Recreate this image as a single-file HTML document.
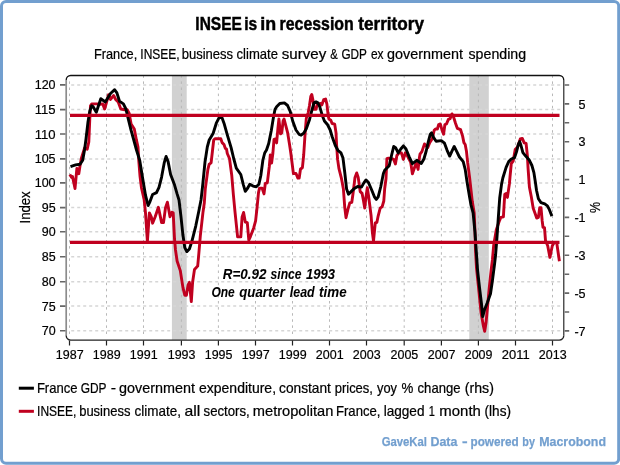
<!DOCTYPE html>
<html lang="en"><head><meta charset="utf-8"><title>INSEE is in recession territory</title>
<style>html,body{margin:0;padding:0;background:#fff}svg{display:block}text{font-family:"Liberation Sans",Arial,sans-serif;fill:#000}.n{stroke:#000;stroke-width:.2}</style></head><body>
<svg width="620" height="465" viewBox="0 0 620 465">
<rect x="0" y="0" width="620" height="465" fill="#fff"/>
<rect x="1.5" y="1.5" width="617.2" height="461.7" rx="4.5" ry="4.5" fill="#fff" stroke="#729fcf" stroke-width="3"/>
<rect x="171.9" y="76" width="14.8" height="264" fill="#d1d1d1"/>
<rect x="469.3" y="76" width="19.5" height="264" fill="#d1d1d1"/>
<path d="M71.2 84.9H560.4M71.2 109.6H560.4M71.2 134.0H560.4M71.2 158.9H560.4M71.2 182.9H560.4M71.2 207.6H560.4M71.2 231.8H560.4M71.2 256.7H560.4M71.2 281.7H560.4M71.2 306.1H560.4M71.2 330.8H560.4" fill="none" stroke="#d6d6d6" stroke-width="1.5" stroke-dasharray="3 3"/>
<path d="M69.5 81.4V337M106.5 75.3V337M143.5 75.3V337M181.4 75.3V337M218.4 75.3V337M255.5 75.3V337M292.5 75.3V337M329.5 75.3V337M366.5 75.3V337M404.2 75.3V337M441.4 75.3V337M478.4 75.3V337M515.5 75.3V337M552.5 75.3V337" fill="none" stroke="#b8b8b8" stroke-width="1" stroke-dasharray="2.5 3.6"/>
<polyline points="69.8,174.4 71.7,177.6 72.5,176.5 75,188.5 76.9,168.5 78.8,173.7 80.1,165.3 81.4,158.2 84.6,147.9 87.2,149.2 88.8,142 89.8,118.7 90.5,105.8 91.7,103.9 96.9,103.9 98.8,104.5 102.7,103.9 104.6,109 106.6,102 108.5,94.8 110.5,99.4 113.7,95.5 115.6,99.4 118.2,102 120.8,109 124.6,109.7 127.2,109.7 129.2,113.5 131.1,123.9 134.3,129 136.3,139.4 138,147 138.8,160.8 140,176 141.5,188 144.2,200 145.5,212.9 147.4,241.3 149.4,212.9 151.3,216.8 152.6,223.2 155.2,216.8 158.4,207.3 161.6,222.6 163.5,222.6 165.5,207.7 167.4,202.2 170,216.8 171.9,212.3 173.2,212.9 174.5,238.7 175.5,250 177.1,261 180.3,270.6 182.9,287.4 184.8,295.2 186.4,295.2 188.1,284.8 189.4,282.3 191.3,301.6 192.6,282.3 194.5,269.4 197.7,266.1 198.8,253.9 200.3,236.1 202.9,212.9 204.3,203 205.3,188.7 207.9,169.4 209.2,164.2 211.1,162.9 212.4,151.5 213.7,140 215,138.7 220.8,138.7 222.1,142.6 224,144.5 225.3,148.4 226.5,149 227.3,153.5 229.5,158.5 231.8,175.8 233.4,195 235,211.8 237.6,236.9 240.8,236.9 242.1,216.9 243.6,212.4 245.3,222.1 247.3,222.7 248.8,240.2 250.5,236.3 253.7,227.9 255.6,220.8 257,208 258.5,192.6 259.5,188.1 262.1,188.1 264,193.9 265.3,183.5 267.3,182.9 269.3,166.5 270.3,155 271.6,163 272.9,153 274,139.5 275.5,139 276.6,142.9 277.9,128.7 278.9,119 280.5,133.9 281.8,132.6 283.1,121 284.1,119 285.6,124.8 287.6,132.6 289.5,144.2 290.8,153 293.4,173.5 296,173.5 297.9,178.1 299.2,178.1 300.5,169 302.4,167.7 303.7,155 305,135.2 306.3,118.4 308.2,112.6 309.5,105.5 310.8,96.5 311.8,94.5 313,100.3 314,109.4 316,109.4 317.3,104.2 320.5,103.5 321.8,105 323.7,99.7 325.6,99 326.9,104.2 328.2,115.8 328.9,119 330.8,120.3 332.1,123.5 334.7,124.2 336,132.6 336.6,145 337.6,159.4 338.9,168.4 341.5,178.7 343.4,189 344.7,206.8 346,217.7 347.9,209.4 349.8,202.9 351.8,202.3 353.1,193 355,177.4 356.7,172.9 358.2,177.4 360.2,191.6 362.1,193.4 363.4,200.3 364.7,208.1 366,197 367.3,187.7 368.5,195.5 369.8,205.5 371.1,215.8 372.4,232.6 373.5,241 374.7,228.7 375.3,222.9 376.9,222.3 378.2,215.8 380.2,208.1 382.1,206.8 383.8,201 384.7,188.5 386,178.7 386.9,158.7 388.5,158.1 391.8,158.7 393.7,159.4 395.4,163.9 396.9,155.5 399.5,152.3 401.4,152.9 403.4,159.4 405.3,152.8 407.5,156 410.7,162.4 412.4,173.7 414.3,168.2 416.1,162.9 418.1,169.4 419.4,157.7 420,154.2 421.9,151.6 424.5,143.9 427.7,147.7 429.7,142.6 432.3,138.7 434.2,130.3 435.5,129 437.4,129 438.7,124.5 440.3,123.9 441.9,129.7 443.6,134.2 444.9,124.5 446.5,123.9 448.4,119.4 450.1,118.7 452,113.9 453.5,116.8 455.5,123.2 457.4,128.4 460.6,129.7 462.6,136.1 463.9,142.6 465.2,144.5 466.5,151.6 467.7,162.9 469.7,178.4 472.3,201.6 474.2,213 475,232 475.5,250 476.5,268 478.5,287 481.1,313 483.5,326.5 484.7,331.3 486.1,322.3 487.5,307 489.2,288.5 491.1,270.5 492.4,260 493.7,245.2 496.3,229.7 499.5,220.6 500.8,217.4 503.4,216.8 504,206.5 504.8,194.2 506.1,193.5 507.4,197.4 509.4,183.9 510,177 511.3,163.5 513.2,161 515.2,149.4 517.7,146.8 520.3,139 522.3,138.4 524.2,142.9 526.1,143.5 527.4,155.8 528.1,168.7 529.4,187 531.3,196.8 533.2,208.2 535.2,213.8 536.7,218.1 538.4,217.4 539.7,207.7 541,207.7 542.2,221 543,227.3 544.5,227.7 545.5,240.6 547.7,245.8 549.9,257.4 552.3,245.8 554.2,242.6 556.8,243.2 559.4,261.3" fill="none" stroke="#c0001f" stroke-width="2.9" stroke-linejoin="round" stroke-linecap="butt"/>
<polyline points="70.5,166.6 75.6,164.9 80.1,164.2 82.7,160.2 84.6,149.5 86,139 87.9,122.6 89.8,111 91.7,105.8 93,106.5 96.3,112.3 100.8,98.7 105.3,102 110.5,93.5 114.7,89.7 116.9,92.9 119.5,101.3 123.4,103.9 125.9,109 128.5,120 131.1,130.3 133.5,139 136.5,150 139.7,160.3 142.9,179.7 145.5,195.2 148.1,205.5 150,201.6 152.6,194.5 156.5,192.6 159,187.4 161.6,177.1 164.2,162.9 166.1,156.5 168.1,161.6 170.6,174.5 174.5,184.8 177.1,193.9 179,200 181,216.8 182.9,234.8 184.8,247.7 186.8,251.6 189.4,249 191.9,241.3 195.8,225.8 199,210.3 201,200 202.5,187 205,162 207.3,147 209.2,140 213.1,133.5 216.3,123.2 219.5,116.8 222.1,118.1 224,123.2 227.3,134.8 231.1,147.7 233.7,158.5 236.3,168.1 240.8,174.5 243.4,184.8 245.3,191.3 247.3,188.7 249.8,184.2 253.1,186.1 256.3,186.8 258.9,184.2 260.8,175.8 262.9,160 264.7,153 266.5,150 268.7,143.5 271.3,130.5 273.5,117 275,109.5 276.6,106.8 279.8,103.5 284.4,102.9 287.6,105.5 290.2,111.3 292.7,121 296,130 299.2,134.5 301.1,135.2 303.7,133.2 306.3,128.7 309.5,119.7 312.1,109.4 314,102.9 316,101.9 317.9,102.9 319.8,106.8 322.4,115.8 324.4,121 327.6,124.8 330.2,130 332.1,136.5 335.3,145.5 337.9,150.3 341,152.9 343,158.1 344.7,172 346.6,189 348.5,194.2 351.1,191.6 354.4,188.4 357.6,186.5 361.5,187.1 364,182.6 366,180 368.5,182.6 371.8,190.3 374.4,196.8 376.3,199.4 378.2,196.8 380.8,186.5 383.4,173.5 384.7,170.3 389.2,165.8 391.8,154.2 393.7,146.5 395.6,147.7 398.2,152.9 400.8,149 403.4,145.8 406,149 409.2,156.8 412.4,163.7 416.8,160.3 421.3,163.5 423.9,159 426.2,151 428.4,141.3 430.3,134.2 431.6,132.9 433.5,137.4 436.1,141.3 441.3,140.6 444.5,143.2 447.1,150.3 449.7,156.1 452.3,150.3 454.2,146.5 456.8,151.6 459.4,157 463.2,161.6 465.2,169.4 467.1,182.3 469.7,197.7 471,205 473.1,212.9 475,232.3 476.3,251.6 477.6,270.5 479.5,287.3 481.5,304 482.7,316.5 484.7,309.2 487.3,302.7 490.5,293.7 492.4,280.8 494.4,265.3 495.6,255 496.9,238.7 498.2,219.4 499.7,198 501.6,183.9 502.9,177.7 506.1,167.4 508.7,161.6 511.3,159 514.5,157.7 516.5,151.9 518.4,144.2 519.7,141.6 521,145.5 522.9,152.6 525.5,155.8 529.4,160.3 531.9,165.5 533.9,172.6 535.5,183 536.5,190.3 538.4,198.7 541,202.6 544.8,203.9 547.4,205.8 549.4,209.7 551.9,216.1" fill="none" stroke="#000" stroke-width="2.9" stroke-linejoin="round" stroke-linecap="butt"/>
<line x1="70" y1="115.4" x2="559.5" y2="115.4" stroke="#c0001f" stroke-width="3.1"/>
<line x1="70" y1="242.4" x2="559.5" y2="242.4" stroke="#c0001f" stroke-width="3.1"/>
<path d="M66.2 335.6V80.0" fill="none" stroke="#8c8c8c" stroke-width="1.7"/>
<path d="M563.75 80.0V335.6" fill="none" stroke="#484848" stroke-width="1.4"/>
<path d="M66.2 80.0A4.5 4.5 0 0 1 70.7 75.5H559.25A4.5 4.5 0 0 1 563.75 80.0" fill="none" stroke="#111" stroke-width="1.3"/>
<path d="M66.2 335.6A4.5 4.5 0 0 0 70.7 340.1H559.25A4.5 4.5 0 0 0 563.75 335.6" fill="none" stroke="#222" stroke-width="1.4"/>
<path d="M60 330.8H65.5M60 306.1H65.5M60 281.7H65.5M60 256.7H65.5M60 231.8H65.5M60 207.6H65.5M60 182.9H65.5M60 158.9H65.5M60 134.0H65.5M60 109.6H65.5M60 84.9H65.5M564.6 330.9H569.2M564.6 312.0H569.2M564.6 293.1H569.2M564.6 274.2H569.2M564.6 255.3H569.2M564.6 236.3H569.2M564.6 217.4H569.2M564.6 198.5H569.2M564.6 179.6H569.2M564.6 160.7H569.2M564.6 141.7H569.2M564.6 122.8H569.2M564.6 103.9H569.2M564.6 85.0H569.2" fill="none" stroke="#666" stroke-width="1.6"/>
<path d="M69.5 340.5V345.6M106.5 340.5V345.6M143.5 340.5V345.6M181.4 340.5V345.6M218.4 340.5V345.6M255.5 340.5V345.6M292.5 340.5V345.6M329.5 340.5V345.6M366.5 340.5V345.6M404.2 340.5V345.6M441.4 340.5V345.6M478.4 340.5V345.6M515.5 340.5V345.6M552.5 340.5V345.6" fill="none" stroke="#222" stroke-width="1.2"/>
<text class="n" x="55.6" y="335.3" font-size="13.4" text-anchor="end" textLength="13.9" lengthAdjust="spacingAndGlyphs">70</text>
<text class="n" x="55.6" y="310.6" font-size="13.4" text-anchor="end" textLength="13.9" lengthAdjust="spacingAndGlyphs">75</text>
<text class="n" x="55.6" y="286.2" font-size="13.4" text-anchor="end" textLength="13.9" lengthAdjust="spacingAndGlyphs">80</text>
<text class="n" x="55.6" y="261.2" font-size="13.4" text-anchor="end" textLength="13.9" lengthAdjust="spacingAndGlyphs">85</text>
<text class="n" x="55.6" y="236.3" font-size="13.4" text-anchor="end" textLength="13.9" lengthAdjust="spacingAndGlyphs">90</text>
<text class="n" x="55.6" y="212.1" font-size="13.4" text-anchor="end" textLength="13.9" lengthAdjust="spacingAndGlyphs">95</text>
<text class="n" x="55.6" y="187.4" font-size="13.4" text-anchor="end" textLength="20.9" lengthAdjust="spacingAndGlyphs">100</text>
<text class="n" x="55.6" y="163.4" font-size="13.4" text-anchor="end" textLength="20.9" lengthAdjust="spacingAndGlyphs">105</text>
<text class="n" x="55.6" y="138.5" font-size="13.4" text-anchor="end" textLength="20.9" lengthAdjust="spacingAndGlyphs">110</text>
<text class="n" x="55.6" y="114.1" font-size="13.4" text-anchor="end" textLength="20.9" lengthAdjust="spacingAndGlyphs">115</text>
<text class="n" x="55.6" y="89.4" font-size="13.4" text-anchor="end" textLength="20.9" lengthAdjust="spacingAndGlyphs">120</text>
<text class="n" x="585.6" y="335.5" font-size="13.4" text-anchor="end" textLength="11.2" lengthAdjust="spacingAndGlyphs">-7</text>
<text class="n" x="585.6" y="297.7" font-size="13.4" text-anchor="end" textLength="11.2" lengthAdjust="spacingAndGlyphs">-5</text>
<text class="n" x="585.6" y="259.9" font-size="13.4" text-anchor="end" textLength="11.2" lengthAdjust="spacingAndGlyphs">-3</text>
<text class="n" x="585.6" y="222.0" font-size="13.4" text-anchor="end" textLength="11.2" lengthAdjust="spacingAndGlyphs">-1</text>
<text class="n" x="585.6" y="184.2" font-size="13.4" text-anchor="end" textLength="7.0" lengthAdjust="spacingAndGlyphs">1</text>
<text class="n" x="585.6" y="146.3" font-size="13.4" text-anchor="end" textLength="7.0" lengthAdjust="spacingAndGlyphs">3</text>
<text class="n" x="585.6" y="108.5" font-size="13.4" text-anchor="end" textLength="7.0" lengthAdjust="spacingAndGlyphs">5</text>
<text class="n" x="69.7" y="359.4" font-size="13.4" text-anchor="middle" textLength="27.8" lengthAdjust="spacingAndGlyphs">1987</text>
<text class="n" x="106.7" y="359.4" font-size="13.4" text-anchor="middle" textLength="27.8" lengthAdjust="spacingAndGlyphs">1989</text>
<text class="n" x="143.7" y="359.4" font-size="13.4" text-anchor="middle" textLength="27.8" lengthAdjust="spacingAndGlyphs">1991</text>
<text class="n" x="181.6" y="359.4" font-size="13.4" text-anchor="middle" textLength="27.8" lengthAdjust="spacingAndGlyphs">1993</text>
<text class="n" x="218.6" y="359.4" font-size="13.4" text-anchor="middle" textLength="27.8" lengthAdjust="spacingAndGlyphs">1995</text>
<text class="n" x="255.7" y="359.4" font-size="13.4" text-anchor="middle" textLength="27.8" lengthAdjust="spacingAndGlyphs">1997</text>
<text class="n" x="292.7" y="359.4" font-size="13.4" text-anchor="middle" textLength="27.8" lengthAdjust="spacingAndGlyphs">1999</text>
<text class="n" x="329.7" y="359.4" font-size="13.4" text-anchor="middle" textLength="27.8" lengthAdjust="spacingAndGlyphs">2001</text>
<text class="n" x="366.7" y="359.4" font-size="13.4" text-anchor="middle" textLength="27.8" lengthAdjust="spacingAndGlyphs">2003</text>
<text class="n" x="404.4" y="359.4" font-size="13.4" text-anchor="middle" textLength="27.8" lengthAdjust="spacingAndGlyphs">2005</text>
<text class="n" x="441.6" y="359.4" font-size="13.4" text-anchor="middle" textLength="27.8" lengthAdjust="spacingAndGlyphs">2007</text>
<text class="n" x="478.6" y="359.4" font-size="13.4" text-anchor="middle" textLength="27.8" lengthAdjust="spacingAndGlyphs">2009</text>
<text class="n" x="515.7" y="359.4" font-size="13.4" text-anchor="middle" textLength="27.8" lengthAdjust="spacingAndGlyphs">2011</text>
<text class="n" x="552.7" y="359.4" font-size="13.4" text-anchor="middle" textLength="27.8" lengthAdjust="spacingAndGlyphs">2013</text>
<text class="n" transform="translate(29.8 207.5) rotate(-90)" font-size="14" text-anchor="middle" textLength="32" lengthAdjust="spacingAndGlyphs">Index</text>
<text class="n" transform="translate(600.4 207.6) rotate(-90)" font-size="14" text-anchor="middle" textLength="11" lengthAdjust="spacingAndGlyphs">%</text>
<text y="29.7" font-size="18.0" font-weight="bold" font-style="normal" style="fill:#000;stroke:#000;stroke-width:0.45"><tspan x="195.33" textLength="46.48" lengthAdjust="spacingAndGlyphs">INSEE</tspan> <tspan x="244.23" textLength="13.01" lengthAdjust="spacingAndGlyphs">is</tspan> <tspan x="260.28" textLength="15.88" lengthAdjust="spacingAndGlyphs">in</tspan> <tspan x="279.51" textLength="74.26" lengthAdjust="spacingAndGlyphs">recession</tspan> <tspan x="358.20" textLength="65.89" lengthAdjust="spacingAndGlyphs">territory</tspan></text>
<text y="59.2" font-size="14.1" font-weight="normal" font-style="normal" style="fill:#000;stroke:#000;stroke-width:0.22"><tspan x="94.00" textLength="43.20" lengthAdjust="spacingAndGlyphs">France,</tspan> <tspan x="140.31" textLength="39.33" lengthAdjust="spacingAndGlyphs">INSEE,</tspan> <tspan x="181.68" textLength="51.47" lengthAdjust="spacingAndGlyphs">business</tspan> <tspan x="236.59" textLength="41.44" lengthAdjust="spacingAndGlyphs">climate</tspan> <tspan x="281.76" textLength="44.49" lengthAdjust="spacingAndGlyphs">survey</tspan> <tspan x="330.15" textLength="7.47" lengthAdjust="spacingAndGlyphs">&amp;</tspan> <tspan x="341.45" textLength="25.29" lengthAdjust="spacingAndGlyphs">GDP</tspan> <tspan x="370.88" textLength="12.62" lengthAdjust="spacingAndGlyphs">ex</tspan> <tspan x="387.05" textLength="75.90" lengthAdjust="spacingAndGlyphs">government</tspan> <tspan x="468.53" textLength="57.57" lengthAdjust="spacingAndGlyphs">spending</tspan></text>
<text y="278.5" font-size="15" font-weight="bold" font-style="italic" style="fill:#000;stroke:#000;stroke-width:0.05"><tspan x="222.79" textLength="43.58" lengthAdjust="spacingAndGlyphs">R=0.92</tspan> <tspan x="270.50" textLength="31.05" lengthAdjust="spacingAndGlyphs">since</tspan> <tspan x="306.05" textLength="29.08" lengthAdjust="spacingAndGlyphs">1993</tspan></text>
<text y="297.4" font-size="15" font-weight="bold" font-style="italic" style="fill:#000;stroke:#000;stroke-width:0.05"><tspan x="211.44" textLength="23.36" lengthAdjust="spacingAndGlyphs">One</tspan> <tspan x="239.29" textLength="45.57" lengthAdjust="spacingAndGlyphs">quarter</tspan> <tspan x="289.81" textLength="24.82" lengthAdjust="spacingAndGlyphs">lead</tspan> <tspan x="319.08" textLength="27.50" lengthAdjust="spacingAndGlyphs">time</tspan></text>
<text y="392.7" font-size="14.2" font-weight="normal" font-style="normal" style="fill:#000;stroke:#000;stroke-width:0.22"><tspan x="36.88" textLength="40.65" lengthAdjust="spacingAndGlyphs">France</tspan> <tspan x="80.70" textLength="25.55" lengthAdjust="spacingAndGlyphs">GDP</tspan> <tspan x="110.75" textLength="5.33" lengthAdjust="spacingAndGlyphs">-</tspan> <tspan x="119.05" textLength="75.90" lengthAdjust="spacingAndGlyphs">government</tspan> <tspan x="199.06" textLength="76.98" lengthAdjust="spacingAndGlyphs">expenditure,</tspan> <tspan x="279.07" textLength="51.88" lengthAdjust="spacingAndGlyphs">constant</tspan> <tspan x="334.69" textLength="38.28" lengthAdjust="spacingAndGlyphs">prices,</tspan> <tspan x="377.00" textLength="20.00" lengthAdjust="spacingAndGlyphs">yoy</tspan> <tspan x="401.58" textLength="11.81" lengthAdjust="spacingAndGlyphs">%</tspan> <tspan x="417.59" textLength="42.94" lengthAdjust="spacingAndGlyphs">change</tspan> <tspan x="464.84" textLength="29.10" lengthAdjust="spacingAndGlyphs">(rhs)</tspan></text>
<text y="416.3" font-size="14.2" font-weight="normal" font-style="normal" style="fill:#000;stroke:#000;stroke-width:0.22"><tspan x="37.06" textLength="39.33" lengthAdjust="spacingAndGlyphs">INSEE,</tspan> <tspan x="79.19" textLength="51.22" lengthAdjust="spacingAndGlyphs">business</tspan> <tspan x="134.58" textLength="46.43" lengthAdjust="spacingAndGlyphs">climate,</tspan> <tspan x="184.51" textLength="15.78" lengthAdjust="spacingAndGlyphs">all</tspan> <tspan x="203.54" textLength="46.19" lengthAdjust="spacingAndGlyphs">sectors,</tspan> <tspan x="252.84" textLength="80.49" lengthAdjust="spacingAndGlyphs">metropolitan</tspan> <tspan x="335.97" textLength="44.51" lengthAdjust="spacingAndGlyphs">France,</tspan> <tspan x="383.65" textLength="40.86" lengthAdjust="spacingAndGlyphs">lagged</tspan> <tspan x="428.81" textLength="6.14" lengthAdjust="spacingAndGlyphs">1</tspan> <tspan x="439.37" textLength="41.47" lengthAdjust="spacingAndGlyphs">month</tspan> <tspan x="484.56" textLength="26.44" lengthAdjust="spacingAndGlyphs">(lhs)</tspan></text>
<text y="446.4" font-size="13.2" font-weight="bold" font-style="normal" style="fill:#729fcf;stroke:#729fcf;stroke-width:0.25"><tspan x="381.65" textLength="45.27" lengthAdjust="spacingAndGlyphs">GaveKal</tspan> <tspan x="430.47" textLength="26.95" lengthAdjust="spacingAndGlyphs">Data</tspan> <tspan x="461.97" textLength="5.64" lengthAdjust="spacingAndGlyphs">-</tspan> <tspan x="470.52" textLength="48.23" lengthAdjust="spacingAndGlyphs">powered</tspan> <tspan x="522.32" textLength="12.61" lengthAdjust="spacingAndGlyphs">by</tspan> <tspan x="539.23" textLength="66.77" lengthAdjust="spacingAndGlyphs">Macrobond</tspan></text>
<line x1="18.8" y1="388.2" x2="33.9" y2="388.2" stroke="#000" stroke-width="3"/>
<line x1="18.8" y1="411.3" x2="33.9" y2="411.3" stroke="#c0001f" stroke-width="3"/>
</svg></body></html>
